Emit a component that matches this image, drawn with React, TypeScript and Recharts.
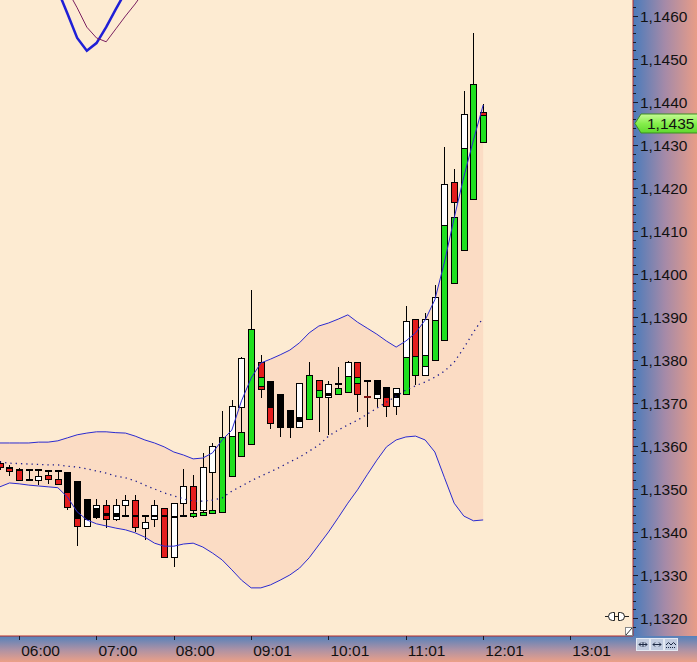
import React from 'react';
import { ComposedChart, XAxis, YAxis, Bar, Line, Area, ReferenceLine } from 'recharts';

// ---- data (prices) ----
const highs = [1.13565,1.13556,1.13549,1.13543,1.13543,1.13542,1.13542,1.13540,1.13519,1.13477,
1.13477,1.13474,1.13477,1.13486,1.13486,1.13438,1.13474,1.13456,1.13467,1.13546,
1.13533,1.13583,1.13607,1.13681,1.13707,1.13807,1.13963,1.13812,1.13752,1.13721,
1.13684,1.13746,1.13795,1.13754,1.13751,1.13784,1.13798,1.13796,1.13752,1.13754,
1.13737,1.13734,1.13926,1.13895,1.13909,1.13974,1.14296,1.14244,1.14426,1.14561,
1.14395];
const lows = [1.13544,1.13530,1.13519,1.13521,1.13509,1.13512,1.13509,1.13451,1.13367,1.13414,
1.13430,1.13409,1.13426,1.13435,1.13401,1.13381,1.13412,1.13342,1.13319,1.13437,
1.13433,1.13440,1.13443,1.13446,1.13531,1.13577,1.13604,1.13711,1.13640,1.13622,
1.13618,1.13644,1.13663,1.13632,1.13626,1.13720,1.13726,1.13680,1.13645,1.13690,
1.13667,1.13672,1.13720,1.13742,1.13764,1.13800,1.13847,1.13978,1.14056,1.14174,
1.14308];
const bodyATop = [1.13560,1.13551,1.13547,1.13543,1.13543,1.13542,1.13542,1.13540,1.13519,1.13476,
1.13463,1.13463,1.13463,1.13474,1.13474,1.13438,1.13463,1.13456,1.13467,1.13507,
1.13507,1.13550,1.13601,1.13620,1.13693,1.13804,1.13871,1.13795,1.13752,1.13721,
1.13684,1.13746,1.13764,1.13754,1.13744,1.13735,1.13795,1.13795,1.13752,1.13754,
1.13737,1.13734,1.13891,1.13895,1.13895,1.13946,1.14209,1.14213,1.14371,1.14443,
1.14376];
const bodyABottom = [1.13550,1.13548,1.13543,1.13543,1.13543,1.13542,1.13542,1.13457,1.13415,1.13430,
1.13436,1.13430,1.13430,1.13462,1.13412,1.13438,1.13430,1.13342,1.13342,1.13467,
1.13450,1.13450,1.13540,1.13446,1.13623,1.13691,1.13604,1.13732,1.13653,1.13643,
1.13645,1.13644,1.13663,1.13713,1.13715,1.13721,1.13726,1.13720,1.13752,1.13711,
1.13693,1.13693,1.13720,1.13764,1.13764,1.13800,1.13847,1.14168,1.14056,1.14174,
1.14308];
const bodyAColor = ['r','k','k','k','k','k','k','k','k','k',
'w','r','w','w','r','k','w','r','w','w',
'r','w','w','g','w','w','g','r','k','k',
'k','w','g','r','w','g','w','r','k','k',
'k','w','w','r','w','w','w','r','w','g',
'r'];
const bodyBTop = [null,1.13548,1.13543,1.13521,1.13530,1.13533,1.13523,1.13494,1.13432,1.13430,
1.13455,1.13445,1.13444,1.13437,1.13438,1.13423,1.13437,1.13437,1.13436,1.13437,
1.13443,1.13447,1.13450,null,1.13623,1.13632,null,1.13761,1.13691,1.13647,
null,1.13668,null,1.13730,1.13724,1.13743,1.13763,1.13761,1.13714,1.13721,
1.13715,1.13724,1.13806,1.13809,1.13812,1.13893,1.14113,1.14132,1.14292,null,
1.14370];
const bodyBBottom = [null,1.13542,1.13522,1.13521,1.13520,1.13523,1.13511,1.13457,1.13415,1.13414,
1.13436,1.13440,1.13438,1.13437,1.13438,1.13409,1.13437,1.13437,1.13436,1.13437,
1.13437,1.13440,1.13443,null,1.13531,1.13577,null,1.13740,1.13653,1.13643,
null,1.13657,null,1.13713,1.13719,1.13743,1.13726,1.13746,1.13714,1.13711,
1.13693,1.13713,1.13720,1.13764,1.13786,1.13800,1.13847,1.13978,1.14056,null,
1.14308];
const bodyBColor = [null,'r','r','k','w','r','r','r','r','w',
'k','k','k','k','k','w','k','k','k','k',
'g','g','g',null,'g','g',null,'g','r','r',
null,'k',null,'g','k','k','g','g','r','w',
'r','k','g','g','g','g','g','g','g',null,
'g'];

const bandUpper = [1.13607,1.13607,1.13607,1.13607,1.13609,1.13609,1.13612,1.13619,1.13626,1.13630,
1.13633,1.13633,1.13631,1.13630,1.13623,1.13614,1.13607,1.13598,1.13586,1.13579,
1.13570,1.13572,1.13584,1.13614,1.13637,1.13705,1.13758,1.13793,1.13802,1.13812,
1.13823,1.13840,1.13863,1.13879,1.13886,1.13895,1.13905,1.13888,1.13874,1.13860,
1.13844,1.13830,1.13844,1.13863,1.13893,1.13940,1.14028,1.14130,1.14226,1.14312,
1.14393];
const bandMiddle = [1.13563,1.13560,1.13559,1.13558,1.13557,1.13556,1.13556,1.13553,1.13551,1.13547,
1.13542,1.13537,1.13530,1.13526,1.13519,1.13509,1.13500,1.13491,1.13484,1.13477,
1.13472,1.13472,1.13474,1.13479,1.13495,1.13507,1.13519,1.13530,1.13540,1.13551,
1.13563,1.13574,1.13588,1.13602,1.13623,1.13637,1.13649,1.13660,1.13674,1.13688,
1.13702,1.13716,1.13730,1.13740,1.13749,1.13760,1.13774,1.13795,1.13828,1.13865,
1.13898];
const bandLower = [1.13505,1.13514,1.13512,1.13509,1.13507,1.13505,1.13503,1.13481,1.13447,1.13428,
1.13419,1.13414,1.13409,1.13405,1.13398,1.13388,1.13374,1.13367,1.13367,1.13372,
1.13374,1.13365,1.13351,1.13335,1.13312,1.13288,1.13270,1.13270,1.13277,1.13288,
1.13300,1.13316,1.13340,1.13370,1.13400,1.13433,1.13467,1.13498,1.13533,1.13567,
1.13598,1.13614,1.13621,1.13623,1.13614,1.13586,1.13526,1.13467,1.13437,1.13426,
1.13428];

// indicator fragments visible at the top-left
const envBlueStart = 6;
const envBlue = [1.14660,1.14605,1.14549,1.14519,1.14537,1.14574,1.14616,1.14656];
const envPurpleStart = 7;
const envPurple = [1.14660,1.14619,1.14574,1.14549,1.14540,1.14570,1.14600,1.14628,1.14660];

const timeTickIndex = [2, 10, 18, 26, 34, 42, 50, 59];
const timeLabels = ['06:00', '07:00', '08:00', '09:01', '10:01', '11:01', '12:01', '13:01'];
const yMajorTicks = [1.1320,1.1330,1.1340,1.1350,1.1360,1.1370,1.1380,1.1390,1.1400,1.1410,1.1420,1.1430,1.1440,1.1450,1.1460];
const lastPrice = 1.1435;
const SLOTS = 66;

const yTicks: number[] = [];
for (let n = 11318; n <= 11462; n += 2) yTicks.push(n / 10000);

const data = Array.from({ length: SLOTS }, (_, i) => {
  const has = i < highs.length;
  const eb = i - envBlueStart;
  const ep = i - envPurpleStart;
  return {
    i,
    range: has ? [lows[i], highs[i]] : null,
    hi: has ? highs[i] : null,
    lo: has ? lows[i] : null,
    aTop: has ? bodyATop[i] : null,
    aBot: has ? bodyABottom[i] : null,
    aCol: has ? bodyAColor[i] : null,
    bTop: has ? bodyBTop[i] : null,
    bBot: has ? bodyBBottom[i] : null,
    bCol: has ? bodyBColor[i] : null,
    upper: has ? bandUpper[i] : null,
    middle: has ? bandMiddle[i] : null,
    lower: has ? bandLower[i] : null,
    band: has ? [bandLower[i], bandUpper[i]] : null,
    envB: eb >= 0 && eb < envBlue.length ? envBlue[eb] : null,
    envP: ep >= 0 && ep < envPurple.length ? envPurple[ep] : null,
  };
});

const FILL: Record<string, string> = { w: '#ffffff', k: '#000000', r: '#e41d1d', g: '#1fe01f' };
const FONT = '"Liberation Sans", Arial, sans-serif';

function Candle(props: any) {
  const { x, y, width, height, payload } = props;
  if (!payload || payload.hi == null) return null;
  const top = Math.min(y, y + height);
  const bot = Math.max(y, y + height);
  const hi = payload.hi, lo = payload.lo;
  const py = (v: number) => top + ((hi - v) / (hi - lo)) * (bot - top);
  const c0 = Math.round(x + width / 2);
  const body = (t: number | null, b: number | null, c: string | null, key: string) => {
    if (t == null || b == null || c == null) return null;
    const y1 = Math.round(py(t));
    const y2 = Math.round(py(b));
    if (y2 - y1 < 1) {
      return <rect key={key} x={c0 - 3} y={y1 - 1} width={7} height={2} fill={c === 'r' ? '#7a1212' : '#000'} />;
    }
    return <rect key={key} x={c0 - 2.5} y={y1 + 0.5} width={6} height={y2 - y1} fill={FILL[c]} stroke="#000" strokeWidth={1} />;
  };
  return (
    <g>
      <line x1={c0 + 0.5} x2={c0 + 0.5} y1={Math.round(py(hi))} y2={Math.round(py(lo))} stroke="#000" strokeWidth={1} />
      {body(payload.aTop, payload.aBot, payload.aCol, 'a')}
      {body(payload.bTop, payload.bBot, payload.bCol, 'b')}
    </g>
  );
}

function XTick(props: any) {
  const { x, y, payload } = props;
  const idx = timeTickIndex.indexOf(payload.value);
  const xr = Math.round(x) + 0.5;
  return (
    <g>
      <line x1={xr} x2={xr} y1={y} y2={y + 4} stroke="#1a1a2a" strokeWidth={1} />
      <text x={x + 2} y={y + 20} fontSize={15.5} fontFamily={FONT} fill="#111">{idx >= 0 ? timeLabels[idx] : ''}</text>
    </g>
  );
}

function YTick(props: any) {
  const { x, y, payload } = props;
  const n = Math.round(payload.value * 10000);
  const major = yMajorTicks.some((t) => Math.round(t * 10000) === n);
  const yr = Math.round(y) + 0.5;
  return (
    <g>
      <line x1={x} x2={x + (major ? 5 : 3)} y1={yr} y2={yr} stroke="#1a1a2a" strokeWidth={1} />
      {major && (
        <text x={x + 7} y={y} dy="0.36em" fontSize={15.5} fontFamily={FONT} fill="#111">
          {payload.value.toFixed(4).replace('.', ',')}
        </text>
      )}
    </g>
  );
}

function PriceTag(props: any) {
  const vb = props.viewBox || {};
  const x0 = (vb.x || 0) + (vb.width || 0);
  const y0 = vb.y || 0;
  return (
    <g>
      <defs>
        <linearGradient id="tagGrad" x1="0" y1="0" x2="0" y2="1">
          <stop offset="0" stopColor="#c8fb98" />
          <stop offset="0.5" stopColor="#86ee4c" />
          <stop offset="1" stopColor="#5fd82e" />
        </linearGradient>
      </defs>
      <polygon
        points={`${x0 + 2},${y0} ${x0 + 8},${y0 - 9.5} ${x0 + 70},${y0 - 9.5} ${x0 + 70},${y0 + 9.5} ${x0 + 8},${y0 + 9.5}`}
        fill="url(#tagGrad)"
        stroke="#3d8f22"
        strokeWidth={1}
      />
      <text x={x0 + 14} y={y0} dy="0.36em" fontSize={15.5} fontFamily={FONT} fill="#111">
        {lastPrice.toFixed(4).replace('.', ',')}
      </text>
    </g>
  );
}

export default function App() {
  return (
    <div style={{ position: 'absolute', left: 0, top: 0, width: 697, height: 662, overflow: 'hidden' }}>
      <div style={{ position: 'absolute', left: 0, top: 0, width: 633, height: 636, background: '#fdebd2' }} />
      <div style={{ position: 'absolute', left: 633, top: 0, width: 64, height: 636, background: 'linear-gradient(to right, #4a7bbb, #a58aa8 50%, #e99d87)' }} />
      <div style={{ position: 'absolute', left: 0, top: 636, width: 697, height: 26, background: 'linear-gradient(to bottom, #5481bb, #a991a6 50%, #eca087)' }} />
      <div style={{ position: 'absolute', left: -4.83, top: 0 }}>
        <ComposedChart width={702} height={662} data={data} margin={{ top: 0, right: 0, bottom: 0, left: 0 }} barSize={7}>
          <XAxis
            dataKey="i"
            type="category"
            ticks={timeTickIndex}
            interval={0}
            tick={<XTick />}
            tickLine={false}
            tickSize={0}
            tickMargin={0}
            height={26}
            axisLine={{ stroke: '#b52a2a', strokeWidth: 1 }}
          />
          <YAxis
            orientation="right"
            type="number"
            domain={[1.131581, 1.146372]}
            allowDataOverflow
            ticks={yTicks}
            interval={0}
            tick={<YTick />}
            tickLine={false}
            tickSize={0}
            tickMargin={0}
            width={64}
            axisLine={{ stroke: '#b52a2a', strokeWidth: 1 }}
          />
          <Area dataKey="band" type="linear" fill="#fbdcc4" fillOpacity={1} stroke="none" isAnimationActive={false} />
          <Bar dataKey="range" shape={(p: any) => <Candle {...p} />} isAnimationActive={false} />
          <Line dataKey="upper" type="linear" stroke="#2a2ad0" strokeWidth={1} dot={false} isAnimationActive={false} />
          <Line dataKey="lower" type="linear" stroke="#2a2ad0" strokeWidth={1} dot={false} isAnimationActive={false} />
          <Line dataKey="middle" type="linear" stroke="#1c1c8c" strokeWidth={1.3} strokeDasharray="1.3 4" dot={false} isAnimationActive={false} />
          <Line dataKey="envB" type="linear" stroke="#1f1fd6" strokeWidth={2.5} dot={false} isAnimationActive={false} />
          <Line dataKey="envP" type="linear" stroke="#7a2060" strokeWidth={1} dot={false} isAnimationActive={false} />
          <ReferenceLine y={lastPrice} stroke="none" ifOverflow="visible" label={<PriceTag />} />
        </ComposedChart>
      </div>
      <svg style={{ position: 'absolute', left: 0, top: 0 }} width={697} height={662}>
        <g stroke="#222" strokeWidth={1} fill="#fff">
          <line x1={605} y1={616.5} x2={610} y2={616.5} />
          <path d="M614.5 612.5 h-2 a4 4 0 0 0 0 8 h2 z" />
          <line x1={614.5} y1={616.5} x2={618} y2={616.5} />
          <path d="M618.5 612.5 h2 a4 4 0 0 1 0 8 h-2 z" />
          <line x1={624.5} y1={616.5} x2={629} y2={616.5} />
        </g>
        <rect x={625.5} y={627.5} width={7} height={8} fill="#fff" stroke="#888" />
        <line x1={626} y1={635} x2={632} y2={628} stroke="#333" />
        <g>
          {[636, 650, 664].map((bx, k) => (
            <g key={k}>
              <rect x={bx + 0.5} y={638.5} width={13} height={12} fill="#c2cce0" stroke="#e4e9f2" />
              {k < 2 ? (
                <g stroke="#1e2a44" strokeWidth={1} fill="none">
                  <line x1={bx + 3} y1={644.5} x2={bx + 11} y2={644.5} />
                  <path d={`M${bx + 5} ${642.5} L${bx + 3} ${644.5} L${bx + 5} ${646.5}`} />
                  <path d={`M${bx + 9} ${642.5} L${bx + 11} ${644.5} L${bx + 9} ${646.5}`} />
                  {k === 0 && <line x1={bx + 7} y1={642} x2={bx + 7} y2={647} />}
                </g>
              ) : (
                <g stroke="#1e2a44" strokeWidth={1} fill="none">
                  <path d={`M${bx + 2} ${645} L${bx + 4.5} ${642.5} L${bx + 7} ${645} L${bx + 9.5} ${642.5} L${bx + 12} ${645}`} />
                  <line x1={bx + 2} y1={647.5} x2={bx + 12} y2={647.5} strokeDasharray="1 1" />
                </g>
              )}
            </g>
          ))}
        </g>
      </svg>
    </div>
  );
}
